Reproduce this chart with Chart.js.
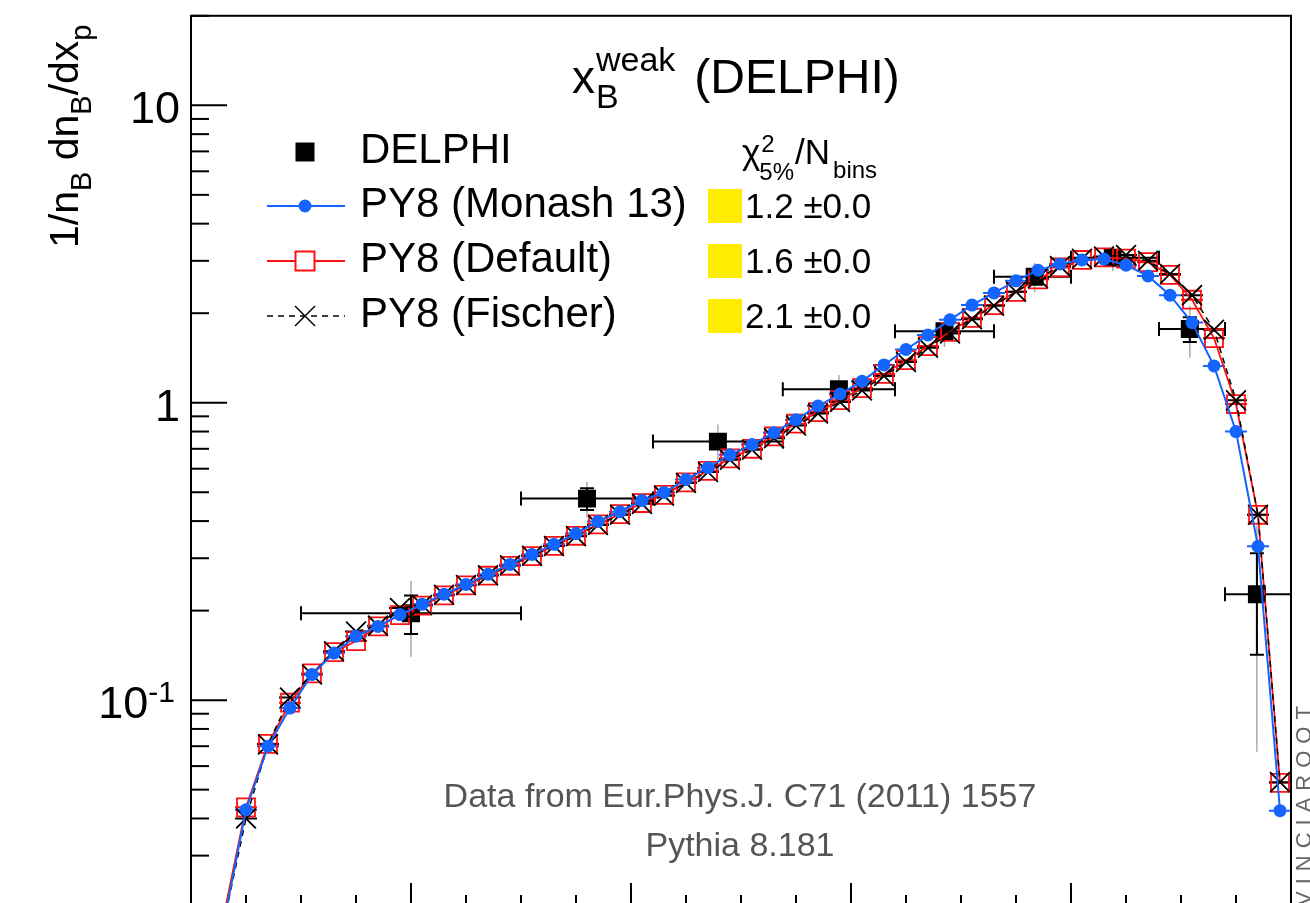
<!DOCTYPE html>
<html>
<head>
<meta charset="utf-8">
<script src="https://cdn.jsdelivr.net/npm/chart.js@4.4.1/dist/chart.umd.min.js"></script>
<style>
  html, body { margin: 0; padding: 0; background: #fff; overflow: hidden; }
  #wrap { width: 1310px; height: 930px; }
</style>
</head>
<body>
<div id="wrap"><canvas id="chart" width="1310" height="930"></canvas></div>
<script>
// --- bins (width 0.02) ---
const binCenters = [0.01, 0.03, 0.05, 0.07, 0.09, 0.11, 0.13, 0.15, 0.17, 0.19,
                    0.21, 0.23, 0.25, 0.27, 0.29, 0.31, 0.33, 0.35, 0.37, 0.39,
                    0.41, 0.43, 0.45, 0.47, 0.49, 0.51, 0.53, 0.55, 0.57, 0.59,
                    0.61, 0.63, 0.65, 0.67, 0.69, 0.71, 0.73, 0.75, 0.77, 0.79,
                    0.81, 0.83, 0.85, 0.87, 0.89, 0.91, 0.93, 0.95, 0.97, 0.99];
const binHalfWidth = 0.01;

// --- PY8 curves ---
const monash = [0.006, 0.018, 0.0428, 0.070, 0.094, 0.122, 0.144, 0.164, 0.177, 0.194,
                0.210, 0.227, 0.245, 0.265, 0.286, 0.309, 0.334, 0.363, 0.399, 0.430,
                0.469, 0.499, 0.552, 0.605, 0.668, 0.723, 0.793, 0.877, 0.975, 1.07,
                1.18, 1.34, 1.51, 1.69, 1.90, 2.13, 2.34, 2.57, 2.79, 2.93,
                3.02, 3.04, 2.90, 2.67, 2.30, 1.86, 1.33, 0.80, 0.329, 0.0425];
const pyDefault = [0.006, 0.019, 0.0436, 0.0713, 0.098, 0.123, 0.145, 0.158, 0.177, 0.193,
                   0.208, 0.225, 0.243, 0.262, 0.283, 0.305, 0.330, 0.357, 0.390, 0.422,
                   0.460, 0.490, 0.540, 0.590, 0.650, 0.700, 0.770, 0.850, 0.930, 1.02,
                   1.12, 1.25, 1.39, 1.55, 1.73, 1.93, 2.13, 2.36, 2.60, 2.85,
                   3.02, 3.08, 3.05, 2.97, 2.69, 2.22, 1.65, 0.99, 0.42, 0.0527];
const fischer = [0.006, 0.018, 0.040, 0.071, 0.102, 0.122, 0.146, 0.170, 0.178, 0.204,
                 0.209, 0.226, 0.244, 0.263, 0.284, 0.306, 0.330, 0.356, 0.388, 0.420,
                 0.457, 0.487, 0.537, 0.585, 0.643, 0.695, 0.760, 0.838, 0.920, 1.005,
                 1.10, 1.23, 1.37, 1.53, 1.71, 1.91, 2.12, 2.36, 2.62, 2.88,
                 3.05, 3.10, 3.14, 3.00, 2.71, 2.30, 1.76, 1.02, 0.42, 0.053];

// --- DELPHI data ---
const delphiX    = [0.20, 0.36, 0.479, 0.589, 0.685, 0.767, 0.838, 0.908, 0.969];
const delphiXLo  = [0.10, 0.30, 0.42, 0.538, 0.64, 0.73, 0.80, 0.88, 0.94];
const delphiXHi  = [0.30, 0.42, 0.538, 0.64, 0.73, 0.80, 0.88, 0.94, 1.00];
const delphiY    = [0.196, 0.476, 0.74, 1.11, 1.74, 2.65, 3.07, 1.77, 0.227];
const delphiStat = [0.029, 0.040, 0.035, 0.05, 0.07, 0.10, 0.10, 0.17, 0.085];
const delphiTot  = [0.056, 0.065, 0.105, 0.13, 0.20, 0.30, 0.30, 0.35, 0.16];

// --- texts ---
const legendLabels = ['DELPHI', 'PY8 (Monash 13)', 'PY8 (Default)', 'PY8 (Fischer)'];
const chi2Values = ['1.2 \u00b10.0', '1.6 \u00b10.0', '2.1 \u00b10.0'];
const footLines = ['Data from Eur.Phys.J. C71 (2011) 1557', 'Pythia 8.181'];

// --- axis ticks ---
const yMajorTicks = [0.1, 1, 10];
const yTickLabels = [['10', '-1'], ['1', ''], ['10', '']];
const xMajorTicks = [0.2, 0.4, 0.6, 0.8];

const FONT = '"Liberation Sans", Arial, Helvetica, sans-serif';
const BLUE = '#1464ff';
const RED = '#ff1010';

const toPoints = vals => binCenters.map((c, i) => ({ x: c, y: vals[i] }));

function seg(ctx, x1, y1, x2, y2) {
  ctx.beginPath(); ctx.moveTo(x1, y1); ctx.lineTo(x2, y2); ctx.stroke();
}
function font(size) { return size + 'px ' + FONT; }

const rootStyle = {
  id: 'rootStyle',
  beforeDatasetsDraw(chart) {
    const { ctx, chartArea: a, scales: { x, y } } = chart;
    ctx.save();
    ctx.beginPath();
    ctx.rect(a.left, a.top, a.right - a.left, a.bottom - a.top);
    ctx.clip();

    // bin-width bars of the MC histograms
    [[pyDefault, RED], [fischer, '#000'], [monash, BLUE]].forEach(([vals, col]) => {
      ctx.strokeStyle = col; ctx.lineWidth = 2;
      vals.forEach((v, i) => {
        const py = y.getPixelForValue(v);
        seg(ctx, x.getPixelForValue(binCenters[i] - binHalfWidth), py,
                 x.getPixelForValue(binCenters[i] + binHalfWidth), py);
      });
    });

    // DELPHI error bars
    delphiX.forEach((xv, i) => {
      const px = x.getPixelForValue(xv), py = y.getPixelForValue(delphiY[i]);
      ctx.strokeStyle = '#aaaaaa'; ctx.lineWidth = 1.5;
      seg(ctx, px, y.getPixelForValue(delphiY[i] + delphiTot[i]), px, y.getPixelForValue(delphiY[i] - delphiTot[i]));
      ctx.strokeStyle = '#000'; ctx.lineWidth = 2;
      const t = y.getPixelForValue(delphiY[i] + delphiStat[i]);
      const b = y.getPixelForValue(delphiY[i] - delphiStat[i]);
      seg(ctx, px, t, px, b);
      seg(ctx, px - 7, t, px + 7, t);
      seg(ctx, px - 7, b, px + 7, b);
      const l = x.getPixelForValue(delphiXLo[i]), r = x.getPixelForValue(delphiXHi[i]);
      seg(ctx, l, py, r, py);
      seg(ctx, l, py - 7, l, py + 7);
      seg(ctx, r, py - 7, r, py + 7);
    });
    ctx.restore();
  },

  afterDraw(chart) {
    const { ctx, chartArea: a, scales: { x, y } } = chart;
    ctx.save();

    // frame
    ctx.strokeStyle = '#000'; ctx.lineWidth = 2;
    ctx.strokeRect(a.left, a.top, a.right - a.left, a.bottom - a.top);

    // y ticks (log), pointing inward
    for (let e = -2; e <= 1; e++) {
      for (let m = 1; m <= 9; m++) {
        const v = m * Math.pow(10, e);
        if (v < 0.02 || v > 20) continue;
        const py = y.getPixelForValue(v);
        seg(ctx, a.left, py, a.left + (m === 1 ? 36 : 18), py);
      }
    }
    // x ticks
    for (let k = 1; k < 20; k++) {
      const v = k * 0.05;
      const major = xMajorTicks.some(t => Math.abs(t - v) < 1e-6);
      const px = x.getPixelForValue(v);
      seg(ctx, px, a.bottom, px, a.bottom - (major ? 25 : 13));
    }

    // y tick labels
    ctx.fillStyle = '#000';
    ctx.textBaseline = 'alphabetic';
    yMajorTicks.forEach((v, i) => {
      const py = y.getPixelForValue(v) + 18;
      const [main, sup] = yTickLabels[i];
      let right = a.left - 11;
      if (sup) {
        right = a.left - 16;
        ctx.font = font(30); ctx.textAlign = 'right';
        ctx.fillText(sup, right, py - 16);
        right -= ctx.measureText(sup).width;
      }
      ctx.font = font(45); ctx.textAlign = 'right';
      ctx.fillText(main, right, py);
    });

    // y axis title, rotated
    ctx.save();
    ctx.translate(78, 248);
    ctx.rotate(-Math.PI / 2);
    ctx.textAlign = 'left';
    let cx = 0;
    [['1/n', 41, 0], ['B', 29, 13], [' dn', 41, 0], ['B', 29, 13], ['/dx', 41, 0], ['p', 29, 13]].forEach(([t, s, dy]) => {
      ctx.font = font(s);
      ctx.fillText(t, cx, dy);
      cx += ctx.measureText(t).width;
    });
    ctx.restore();

    // title: x_B^weak (DELPHI)
    ctx.textAlign = 'left';
    ctx.font = font(46);
    ctx.fillText('x', 572, 93);
    let tx = 572 + ctx.measureText('x').width + 1;
    ctx.font = font(34);
    ctx.fillText('B', tx, 108);
    ctx.fillText('weak', tx, 71);
    tx += ctx.measureText('weak').width + 19;
    ctx.font = font(48);
    ctx.fillText('(DELPHI)', tx, 93);

    // legend
    const rows = [152, 206, 261, 316];
    const mx = 305;
    // DELPHI marker
    ctx.fillStyle = '#000';
    ctx.fillRect(mx - 9.5, rows[0] - 9.5, 19, 19);
    // Monash
    ctx.strokeStyle = BLUE; ctx.lineWidth = 2;
    seg(ctx, 267, rows[1], 345, rows[1]);
    ctx.fillStyle = BLUE;
    ctx.beginPath(); ctx.arc(mx, rows[1], 6.5, 0, Math.PI * 2); ctx.fill();
    // Default
    ctx.strokeStyle = RED; ctx.lineWidth = 2;
    seg(ctx, 267, rows[2], mx - 9.5, rows[2]);
    seg(ctx, mx + 9.5, rows[2], 345, rows[2]);
    ctx.strokeRect(mx - 9.5, rows[2] - 9.5, 19, 19);
    // Fischer
    ctx.strokeStyle = '#000'; ctx.lineWidth = 1.5;
    ctx.setLineDash([6, 5]);
    seg(ctx, 267, rows[3], 345, rows[3]);
    ctx.setLineDash([]);
    seg(ctx, mx - 10, rows[3] - 10, mx + 10, rows[3] + 10);
    seg(ctx, mx - 10, rows[3] + 10, mx + 10, rows[3] - 10);

    ctx.fillStyle = '#000';
    ctx.font = font(42);
    legendLabels.forEach((t, i) => ctx.fillText(t, 360, rows[i] + 11));

    // chi2 column header
    ctx.font = font(35);
    ctx.fillText('\u03c7', 742, 164);
    let hx = 742 + ctx.measureText('\u03c7').width;
    ctx.font = font(24);
    ctx.fillText('2', hx + 1, 152);
    ctx.fillText('5%', hx - 1, 180);
    hx += ctx.measureText('5%').width;
    ctx.font = font(35);
    ctx.fillText('/N', hx, 164);
    hx += ctx.measureText('/N').width + 3;
    ctx.font = font(24);
    ctx.fillText('bins', hx, 178);

    // chi2 rows
    chi2Values.forEach((t, i) => {
      const cy = rows[i + 1];
      ctx.fillStyle = '#ffec00';
      ctx.fillRect(708, cy - 17, 34, 34);
      ctx.fillStyle = '#000';
      ctx.font = font(35);
      ctx.fillText(t, 745, cy + 12);
    });

    // footnote
    ctx.fillStyle = '#555555';
    ctx.font = font(34);
    ctx.textAlign = 'center';
    ctx.fillText(footLines[0], 740, 807);
    ctx.fillText(footLines[1], 740, 856);

    // VINCIAROOT stamp
    ctx.save();
    ctx.translate(1311, 906);
    ctx.rotate(-Math.PI / 2);
    ctx.textAlign = 'left';
    ctx.fillStyle = '#666';
    ctx.font = font(22);
    let sx = 0;
    for (const ch of 'VINCIAROOT') {
      ctx.fillText(ch, sx, 0);
      sx += ctx.measureText(ch).width + 7;
    }
    ctx.restore();

    ctx.restore();
  }
};

new Chart(document.getElementById('chart'), {
  type: 'line',
  data: {
    datasets: [
      {
        label: 'PY8 (Monash 13)', data: toPoints(monash), order: 0,
        borderColor: BLUE, borderWidth: 2, backgroundColor: BLUE,
        pointStyle: 'circle', pointRadius: 6.5, pointBorderWidth: 0, pointBackgroundColor: BLUE
      },
      {
        label: 'PY8 (Fischer)', data: toPoints(fischer), order: 1,
        borderColor: '#000', borderWidth: 1.5, borderDash: [6, 5],
        pointStyle: 'crossRot', pointRadius: 14, pointBorderWidth: 1.8, pointBorderColor: '#000'
      },
      {
        label: 'PY8 (Default)', data: toPoints(pyDefault), order: 2,
        borderColor: RED, borderWidth: 1.8,
        pointStyle: 'rect', pointRadius: 12.7, pointBorderWidth: 1.8,
        pointBorderColor: RED, pointBackgroundColor: 'rgba(0,0,0,0)'
      },
      {
        label: 'DELPHI', data: delphiX.map((xv, i) => ({ x: xv, y: delphiY[i] })), order: 3,
        showLine: false,
        pointStyle: 'rect', pointRadius: 12.7, pointBorderWidth: 0,
        pointBackgroundColor: '#000', borderColor: '#000'
      }
    ]
  },
  options: {
    responsive: false,
    devicePixelRatio: 1,
    animation: false,
    layout: { padding: { left: 191, top: 14, right: 19, bottom: 22 } },
    plugins: { legend: { display: false }, tooltip: { enabled: false } },
    scales: {
      x: { type: 'linear', min: 0, max: 1, display: false },
      y: { type: 'logarithmic', min: 0.02, max: 20, display: false }
    }
  },
  plugins: [rootStyle]
});
</script>
</body>
</html>
